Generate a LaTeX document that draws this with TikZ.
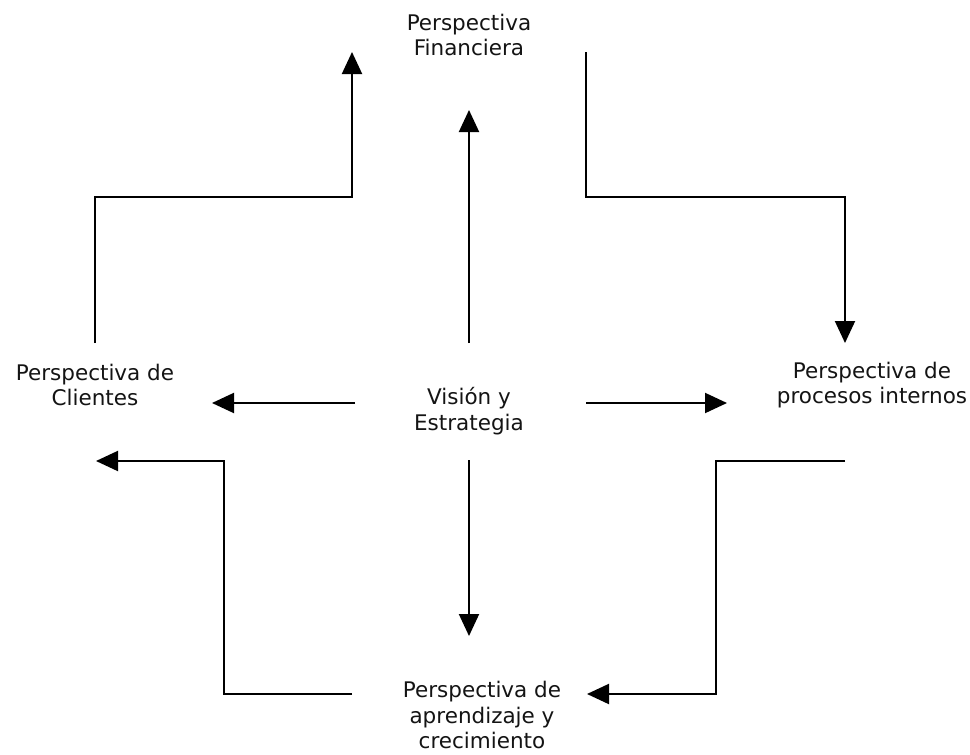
\documentclass[tikz,border=0pt]{standalone}
\usepackage{fontspec}
\setmainfont{DejaVu Sans}
\usetikzlibrary{arrows.meta,calc}
\definecolor{ink}{HTML}{141414}
\begin{document}
\begin{tikzpicture}[x=1pt,y=-1pt,
  persp/.style={align=center,inner sep=0pt,text=ink,
    font=\fontsize{21.5}{25.5}\selectfont},
  link/.style={line width=2pt,black},
  arr/.style={link,-{Triangle[length=22pt,width=20pt]}}]
  \useasboundingbox[fill=white] (0,0) rectangle (970,755);

  % the five perspectives
  \node[persp] (fin) at (469,35)  {Perspectiva\\Financiera};
  \node[persp] (cli) at (95,385)  {Perspectiva de\\Clientes};
  \node[persp] (vis) at (469,411) {Visión y\\Estrategia};
  \node[persp] (pro) at (872,385) {Perspectiva de\\procesos internos};
  \node[persp] (apr) at (482,715) {Perspectiva de\\aprendizaje y\\crecimiento};

  % outer loop
  \draw[arr] ($(cli)+(0,-42)$) |- ($(fin)+(-117,162)$) -- ($(fin)+(-117,17)$);
  \draw[arr] ($(fin)+(117,17)$) |- ($(pro)+(-27,-188)$) -- ($(pro)+(-27,-42)$);
  \draw[arr] ($(pro)+(-27,76)$) -- ++(-129,0) |- ($(apr)+(105,-21)$);
  \draw[arr] ($(apr)+(-130,-21)$) -- ++(-128,0) |- ($(cli)+(1,76)$);

  % from vision and strategy outwards
  \draw[arr] ($(vis)+(0,-68)$) -- ($(fin)+(0,75)$);
  \draw[arr] ($(vis)+(-114,-8)$) -- ($(cli)+(117,18)$);
  \draw[arr] ($(vis)+(117,-8)$) -- ($(pro)+(-145,18)$);
  \draw[arr] ($(vis)+(0,49)$) -- ($(apr)+(-13,-79)$);
\end{tikzpicture}
\end{document}
